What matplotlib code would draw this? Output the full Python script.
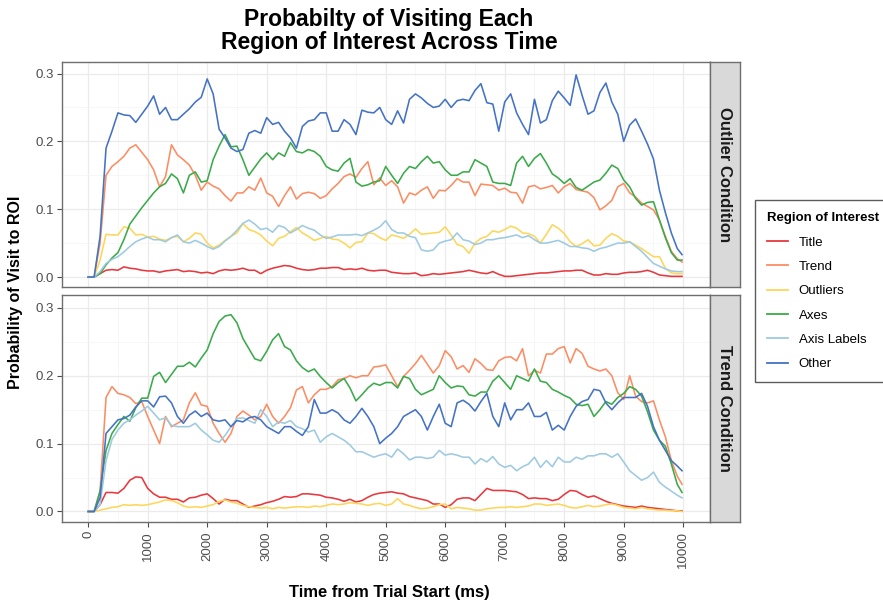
import numpy as np
import matplotlib
matplotlib.use("Agg")
import matplotlib.pyplot as plt
from matplotlib.lines import Line2D

# time axis, ms (sampled every 100 ms, last sample just before 10 s)
time_ms = list(range(0, 10000, 100)) + [9980]

regions = ["Title", "Trend", "Outliers", "Axes", "Axis Labels", "Other"]
colors = ["#E8383D", "#FC8D62", "#FDD65A", "#3BAA4A", "#9ECAE1", "#4472C4"]
conditions = ["Outlier Condition", "Trend Condition"]

# ---- Outlier condition ----
o_title = [0, 0, 0.005, 0.01, 0.011, 0.01, 0.015, 0.013, 0.012, 0.01,
           0.009, 0.009, 0.007, 0.009, 0.01, 0.011, 0.008, 0.009, 0.008, 0.006,
           0.007, 0.005, 0.009, 0.011, 0.01, 0.011, 0.013, 0.01, 0.01, 0.005,
           0.01, 0.013, 0.015, 0.017, 0.016, 0.013, 0.011, 0.01, 0.011, 0.013,
           0.013, 0.014, 0.014, 0.011, 0.012, 0.011, 0.013, 0.01, 0.009, 0.01,
           0.01, 0.007, 0.006, 0.005, 0.005, 0.006, 0.002, 0.003, 0.005, 0.004,
           0.005, 0.006, 0.007, 0.008, 0.01, 0.008, 0.006, 0.005, 0.008, 0.004,
           0.001, 0.001, 0.002, 0.003, 0.004, 0.005, 0.006, 0.006, 0.007, 0.008,
           0.009, 0.009, 0.01, 0.01, 0.006, 0.003, 0.003, 0.005, 0.004, 0.004,
           0.006, 0.007, 0.007, 0.008, 0.01, 0.007, 0.003, 0.002, 0.001, 0.001,
           0.001]
o_trend = [0, 0, 0.05, 0.15, 0.163, 0.17, 0.178, 0.19, 0.195, 0.184,
           0.173, 0.158, 0.133, 0.148, 0.195, 0.18, 0.173, 0.165, 0.15, 0.128,
           0.14, 0.134, 0.13, 0.12, 0.112, 0.124, 0.124, 0.133, 0.128, 0.146,
           0.124, 0.119, 0.104, 0.12, 0.133, 0.115, 0.123, 0.125, 0.123, 0.116,
           0.12, 0.13, 0.138, 0.148, 0.152, 0.147, 0.16, 0.17, 0.136, 0.146,
           0.135, 0.142, 0.133, 0.109, 0.124, 0.121, 0.128, 0.133, 0.116, 0.128,
           0.127, 0.135, 0.145, 0.14, 0.14, 0.12, 0.137, 0.136, 0.135, 0.128,
           0.131, 0.125, 0.124, 0.109, 0.133, 0.135, 0.13, 0.132, 0.135, 0.124,
           0.133, 0.138, 0.129, 0.127, 0.125, 0.117, 0.099, 0.105, 0.113, 0.133,
           0.138, 0.124, 0.118, 0.109, 0.104, 0.099, 0.084, 0.06, 0.038, 0.027,
           0.022]
o_outliers = [0, 0, 0.025, 0.063, 0.062, 0.062, 0.074, 0.072, 0.062, 0.063,
              0.059, 0.06, 0.056, 0.054, 0.058, 0.06, 0.052, 0.057, 0.065, 0.063,
              0.05, 0.043, 0.047, 0.054, 0.06, 0.065, 0.079, 0.07, 0.067, 0.062,
              0.053, 0.046, 0.057, 0.06, 0.067, 0.073, 0.065, 0.06, 0.054, 0.057,
              0.06, 0.056, 0.055, 0.05, 0.043, 0.051, 0.052, 0.065, 0.064, 0.058,
              0.054, 0.062, 0.06, 0.057, 0.063, 0.071, 0.063, 0.064, 0.065, 0.066,
              0.074, 0.062, 0.048, 0.045, 0.035, 0.05, 0.057, 0.06, 0.068, 0.066,
              0.07, 0.075, 0.072, 0.065, 0.064, 0.06, 0.05, 0.063, 0.077, 0.072,
              0.064, 0.052, 0.045, 0.049, 0.055, 0.046, 0.047, 0.057, 0.064, 0.06,
              0.053, 0.052, 0.047, 0.042, 0.036, 0.03, 0.03, 0.013, 0.006, 0.005,
              0.005]
o_axes = [0, 0, 0.005, 0.018, 0.028, 0.036, 0.055, 0.078, 0.09, 0.102,
          0.113, 0.124, 0.133, 0.138, 0.152, 0.145, 0.124, 0.15, 0.155, 0.14,
          0.142, 0.173, 0.193, 0.21, 0.192, 0.193, 0.173, 0.15, 0.162, 0.174,
          0.183, 0.173, 0.183, 0.178, 0.198, 0.185, 0.183, 0.188, 0.185, 0.178,
          0.163, 0.158, 0.156, 0.168, 0.175, 0.14, 0.134, 0.136, 0.14, 0.142,
          0.163, 0.15, 0.138, 0.153, 0.163, 0.16, 0.17, 0.178, 0.168, 0.17,
          0.158, 0.15, 0.15, 0.155, 0.155, 0.173, 0.168, 0.163, 0.14, 0.138,
          0.138, 0.135, 0.168, 0.178, 0.163, 0.175, 0.182, 0.168, 0.152, 0.146,
          0.138, 0.145, 0.132, 0.128, 0.134, 0.14, 0.143, 0.153, 0.165, 0.16,
          0.143, 0.133, 0.116, 0.106, 0.11, 0.111, 0.084, 0.058, 0.036, 0.025,
          0.025]
o_labels = [0, 0, 0.008, 0.02, 0.026, 0.03, 0.037, 0.045, 0.052, 0.056,
            0.059, 0.055, 0.055, 0.052, 0.058, 0.062, 0.052, 0.05, 0.054, 0.05,
            0.045, 0.041, 0.045, 0.053, 0.06, 0.069, 0.079, 0.084, 0.078, 0.07,
            0.072, 0.066, 0.076, 0.073, 0.065, 0.07, 0.076, 0.072, 0.069, 0.062,
            0.057, 0.059, 0.062, 0.062, 0.062, 0.063, 0.061, 0.065, 0.069, 0.074,
            0.083, 0.07, 0.065, 0.065, 0.06, 0.058, 0.04, 0.038, 0.04, 0.05,
            0.053, 0.055, 0.065, 0.055, 0.053, 0.048, 0.05, 0.055, 0.055, 0.057,
            0.058, 0.06, 0.062, 0.058, 0.061, 0.055, 0.05, 0.05, 0.052, 0.054,
            0.05, 0.045, 0.045, 0.043, 0.042, 0.038, 0.042, 0.044, 0.047, 0.05,
            0.05, 0.052, 0.045, 0.038, 0.029, 0.02, 0.016, 0.012, 0.009, 0.008,
            0.008]
o_other = [0, 0, 0.06, 0.19, 0.215, 0.242, 0.239, 0.238, 0.228, 0.24,
           0.252, 0.267, 0.24, 0.25, 0.232, 0.232, 0.24, 0.248, 0.258, 0.265,
           0.292, 0.27, 0.218, 0.205, 0.19, 0.185, 0.188, 0.212, 0.216, 0.212,
           0.235, 0.225, 0.228, 0.215, 0.205, 0.19, 0.222, 0.23, 0.232, 0.242,
           0.242, 0.215, 0.215, 0.232, 0.225, 0.21, 0.246, 0.243, 0.242, 0.25,
           0.232, 0.225, 0.245, 0.227, 0.262, 0.27, 0.264, 0.256, 0.25, 0.252,
           0.262, 0.25, 0.26, 0.262, 0.26, 0.275, 0.285, 0.257, 0.255, 0.215,
           0.258, 0.27, 0.242, 0.225, 0.21, 0.262, 0.227, 0.232, 0.26, 0.274,
           0.264, 0.253, 0.298, 0.268, 0.24, 0.245, 0.272, 0.286, 0.258, 0.24,
           0.2, 0.224, 0.233, 0.215, 0.196, 0.174, 0.128, 0.095, 0.065, 0.042,
           0.033]

# ---- Trend condition ----
t_title = [0, 0, 0.01, 0.028, 0.028, 0.027, 0.034, 0.046, 0.051, 0.05,
           0.034, 0.026, 0.021, 0.021, 0.018, 0.018, 0.014, 0.02, 0.021, 0.024,
           0.026, 0.019, 0.011, 0.018, 0.016, 0.016, 0.011, 0.006, 0.008, 0.01,
           0.013, 0.015, 0.018, 0.022, 0.021, 0.022, 0.026, 0.026, 0.025, 0.024,
           0.021, 0.02, 0.018, 0.015, 0.018, 0.014, 0.016, 0.021, 0.025, 0.027,
           0.028, 0.029, 0.027, 0.026, 0.022, 0.02, 0.018, 0.016, 0.011, 0.011,
           0.006, 0.01, 0.018, 0.02, 0.02, 0.016, 0.025, 0.034, 0.031, 0.031,
           0.031, 0.03, 0.029, 0.025, 0.019, 0.02, 0.019, 0.019, 0.016, 0.018,
           0.025, 0.031, 0.03, 0.025, 0.021, 0.023, 0.019, 0.015, 0.012, 0.01,
           0.008, 0.007, 0.006, 0.008, 0.006, 0.005, 0.004, 0.003, 0.002, 0.001,
           0.001]
t_trend = [0, 0, 0.03, 0.168, 0.184, 0.174, 0.172, 0.168, 0.159, 0.162,
           0.14, 0.12, 0.1, 0.14, 0.125, 0.13, 0.135, 0.16, 0.175, 0.157,
           0.155, 0.13, 0.115, 0.102, 0.115, 0.14, 0.148, 0.142, 0.135, 0.14,
           0.158, 0.14, 0.13, 0.14, 0.153, 0.179, 0.184, 0.16, 0.172, 0.18,
           0.18, 0.184, 0.194, 0.196, 0.2, 0.197, 0.2, 0.2, 0.213, 0.214,
           0.216, 0.2, 0.184, 0.199, 0.208, 0.218, 0.23, 0.217, 0.204, 0.215,
           0.237, 0.228, 0.21, 0.215, 0.205, 0.225, 0.218, 0.209, 0.208, 0.222,
           0.227, 0.228, 0.222, 0.24, 0.2, 0.208, 0.204, 0.232, 0.232, 0.24,
           0.243, 0.219, 0.24, 0.233, 0.214, 0.21, 0.207, 0.21, 0.2, 0.175,
           0.165, 0.2, 0.17, 0.162, 0.16, 0.163, 0.135, 0.11, 0.075, 0.052,
           0.04]
t_outliers = [0, 0, 0.002, 0.004, 0.006, 0.007, 0.01, 0.009, 0.01, 0.009,
              0.01, 0.012, 0.014, 0.017, 0.016, 0.013, 0.008, 0.006, 0.007, 0.006,
              0.008, 0.01, 0.015, 0.017, 0.014, 0.012, 0.009, 0.007, 0.006, 0.005,
              0.006, 0.004, 0.006, 0.005, 0.006, 0.007, 0.007, 0.006, 0.008, 0.007,
              0.009, 0.011, 0.01, 0.011, 0.013, 0.012, 0.011, 0.009, 0.011, 0.012,
              0.009, 0.011, 0.019, 0.011, 0.009, 0.006, 0.004, 0.005, 0.007, 0.01,
              0.011, 0.004, 0.006, 0.005, 0.004, 0.002, 0.002, 0.004, 0.005, 0.006,
              0.006, 0.007, 0.006, 0.007, 0.008, 0.011, 0.011, 0.009, 0.01, 0.011,
              0.009, 0.006, 0.005, 0.007, 0.009, 0.007, 0.008, 0.01, 0.011, 0.009,
              0.006, 0.005, 0.004, 0.006, 0.004, 0.003, 0.002, 0.002, 0.001, 0.001,
              0.0]
t_axes = [0, 0, 0.03, 0.09, 0.115, 0.128, 0.14, 0.133, 0.153, 0.167,
          0.167, 0.199, 0.205, 0.19, 0.202, 0.214, 0.214, 0.22, 0.213, 0.226,
          0.238, 0.262, 0.28, 0.288, 0.29, 0.278, 0.255, 0.24, 0.225, 0.222,
          0.236, 0.253, 0.262, 0.243, 0.238, 0.222, 0.212, 0.206, 0.21, 0.199,
          0.19, 0.182, 0.19, 0.196, 0.182, 0.163, 0.172, 0.182, 0.189, 0.186,
          0.19, 0.19, 0.182, 0.199, 0.196, 0.18, 0.172, 0.176, 0.18, 0.2,
          0.19, 0.182, 0.185, 0.184, 0.172, 0.17, 0.176, 0.176, 0.192, 0.2,
          0.19, 0.18, 0.2, 0.196, 0.192, 0.21, 0.192, 0.19, 0.18, 0.176,
          0.171, 0.167, 0.158, 0.156, 0.158, 0.14, 0.15, 0.162, 0.158, 0.168,
          0.174, 0.184, 0.18, 0.17, 0.147, 0.12, 0.105, 0.096, 0.07, 0.04,
          0.028]
t_labels = [0, 0, 0.01, 0.075, 0.106, 0.12, 0.13, 0.135, 0.142, 0.148,
            0.155, 0.145, 0.135, 0.138, 0.127, 0.125, 0.125, 0.125, 0.13, 0.12,
            0.113, 0.105, 0.102, 0.112, 0.125, 0.137, 0.138, 0.134, 0.13, 0.15,
            0.14, 0.125, 0.132, 0.13, 0.134, 0.125, 0.122, 0.117, 0.12, 0.102,
            0.11, 0.115, 0.11, 0.105, 0.098, 0.088, 0.088, 0.084, 0.08, 0.083,
            0.085, 0.08, 0.092, 0.085, 0.076, 0.08, 0.08, 0.078, 0.08, 0.09,
            0.083, 0.085, 0.083, 0.08, 0.08, 0.07, 0.078, 0.073, 0.081, 0.07,
            0.065, 0.068, 0.06, 0.066, 0.07, 0.08, 0.065, 0.075, 0.066, 0.08,
            0.073, 0.073, 0.08, 0.077, 0.082, 0.082, 0.085, 0.085, 0.08, 0.085,
            0.073, 0.06, 0.053, 0.046, 0.05, 0.058, 0.043, 0.036, 0.03, 0.024,
            0.02]
t_other = [0, 0, 0.02, 0.115, 0.125, 0.135, 0.137, 0.142, 0.154, 0.163,
           0.163, 0.154, 0.169, 0.17, 0.16, 0.14, 0.13, 0.142, 0.148, 0.14,
           0.145, 0.135, 0.133, 0.135, 0.125, 0.134, 0.132, 0.138, 0.14, 0.135,
           0.125, 0.12, 0.115, 0.125, 0.125, 0.118, 0.112, 0.125, 0.165, 0.145,
           0.145, 0.15, 0.145, 0.135, 0.13, 0.14, 0.152, 0.14, 0.125, 0.1,
           0.108, 0.115, 0.125, 0.14, 0.145, 0.15, 0.14, 0.12, 0.14, 0.158,
           0.13, 0.125, 0.16, 0.164, 0.158, 0.148, 0.162, 0.174, 0.14, 0.125,
           0.16, 0.135, 0.15, 0.15, 0.16, 0.14, 0.14, 0.146, 0.12, 0.127,
           0.12, 0.14, 0.155, 0.162, 0.165, 0.18, 0.178, 0.16, 0.15, 0.16,
           0.168, 0.168, 0.168, 0.174, 0.155, 0.125, 0.105, 0.09, 0.075, 0.067,
           0.06]

panels = [
    [o_title, o_trend, o_outliers, o_axes, o_labels, o_other],
    [t_title, t_trend, t_outliers, t_axes, t_labels, t_other],
]

plt.rcParams["font.family"] = ["Liberation Sans", "DejaVu Sans"]

W, H = 883, 601
fig = plt.figure(figsize=(W / 100, H / 100), dpi=100)
fig.patch.set_facecolor("white")

def box(x0, y0, x1, y1):
    # pixel box -> figure fraction rect
    return [x0 / W, 1 - y1 / H, (x1 - x0) / W, (y1 - y0) / H]

panel_px = [(62, 62, 710, 287), (62, 295, 710, 522)]
ylims = [(-0.0147, 0.317), (-0.0155, 0.319)]

for i, (series, cond) in enumerate(zip(panels, conditions)):
    x0, y0, x1, y1 = panel_px[i]
    ax = fig.add_axes(box(x0, y0, x1, y1))
    ax.set_xlim(-440, 10450)
    ax.set_ylim(*ylims[i])
    ax.set_xticks(range(0, 10001, 1000))
    ax.set_xticks(range(500, 10000, 1000), minor=True)
    ax.set_yticks([0.0, 0.1, 0.2, 0.3])
    ax.set_yticks([0.05, 0.15, 0.25], minor=True)
    ax.grid(True, which="major", color="#EBEBEB", lw=0.9)
    ax.grid(True, which="minor", color="#F4F4F4", lw=0.5)
    ax.set_axisbelow(True)
    for s in ax.spines.values():
        s.set_color("#6E6E6E")
        s.set_linewidth(1.0)
    ax.tick_params(which="minor", length=0)
    ax.tick_params(which="major", length=3.5, width=0.8, color="#4D4D4D",
                   labelcolor="#4D4D4D", labelsize=9.5, pad=2)
    ax.yaxis.set_major_formatter(matplotlib.ticker.FormatStrFormatter("%.1f"))
    if i == 0:
        ax.tick_params(axis="x", which="major", length=0, labelbottom=False)
    else:
        ax.tick_params(axis="x", labelrotation=90, pad=3)

    for vals, col in zip(series, colors):
        ax.plot(time_ms, vals, color=col, lw=1.15, solid_joinstyle="round")

    # facet strip on the right
    sx = fig.add_axes(box(710, y0, 740, y1))
    sx.set_facecolor("#D9D9D9")
    sx.set_xticks([])
    sx.set_yticks([])
    for s in sx.spines.values():
        s.set_color("#6E6E6E")
        s.set_linewidth(1.0)
    sx.text(0.5, 0.5, cond, rotation=-90, ha="center", va="center",
            fontsize=12, fontweight="bold", color="#1A1A1A",
            transform=sx.transAxes)

fig.text(389 / W, 1 - 31 / H, "Probabilty of Visiting Each\nRegion of Interest Across Time",
         ha="center", va="center", fontsize=16.5, fontweight="bold", linespacing=1.05)
fig.text(389 / W, 1 - 592 / H, "Time from Trial Start (ms)", ha="center", va="center",
         fontsize=12, fontweight="bold")
fig.text(16 / W, 1 - 292 / H, "Probability of Visit to ROI", ha="center", va="center",
         rotation=90, fontsize=11.5, fontweight="bold")

handles = [Line2D([], [], color=c, lw=1.3) for c in colors]
leg = fig.legend(handles, regions, title="Region of Interest", loc="upper left",
                 bbox_to_anchor=(755 / W, 1 - 200 / H), borderaxespad=0,
                 frameon=True, fancybox=False,
                 fontsize=9.5, title_fontsize=9.5, handlelength=1.6, handletextpad=0.8,
                 labelspacing=0.92, borderpad=0.9, alignment="left")
leg.get_title().set_fontweight("bold")
leg._legend_box.sep = 9
leg.get_frame().set_edgecolor("#333333")
leg.get_frame().set_linewidth(1.0)

fig.savefig("out.png", dpi=100)
